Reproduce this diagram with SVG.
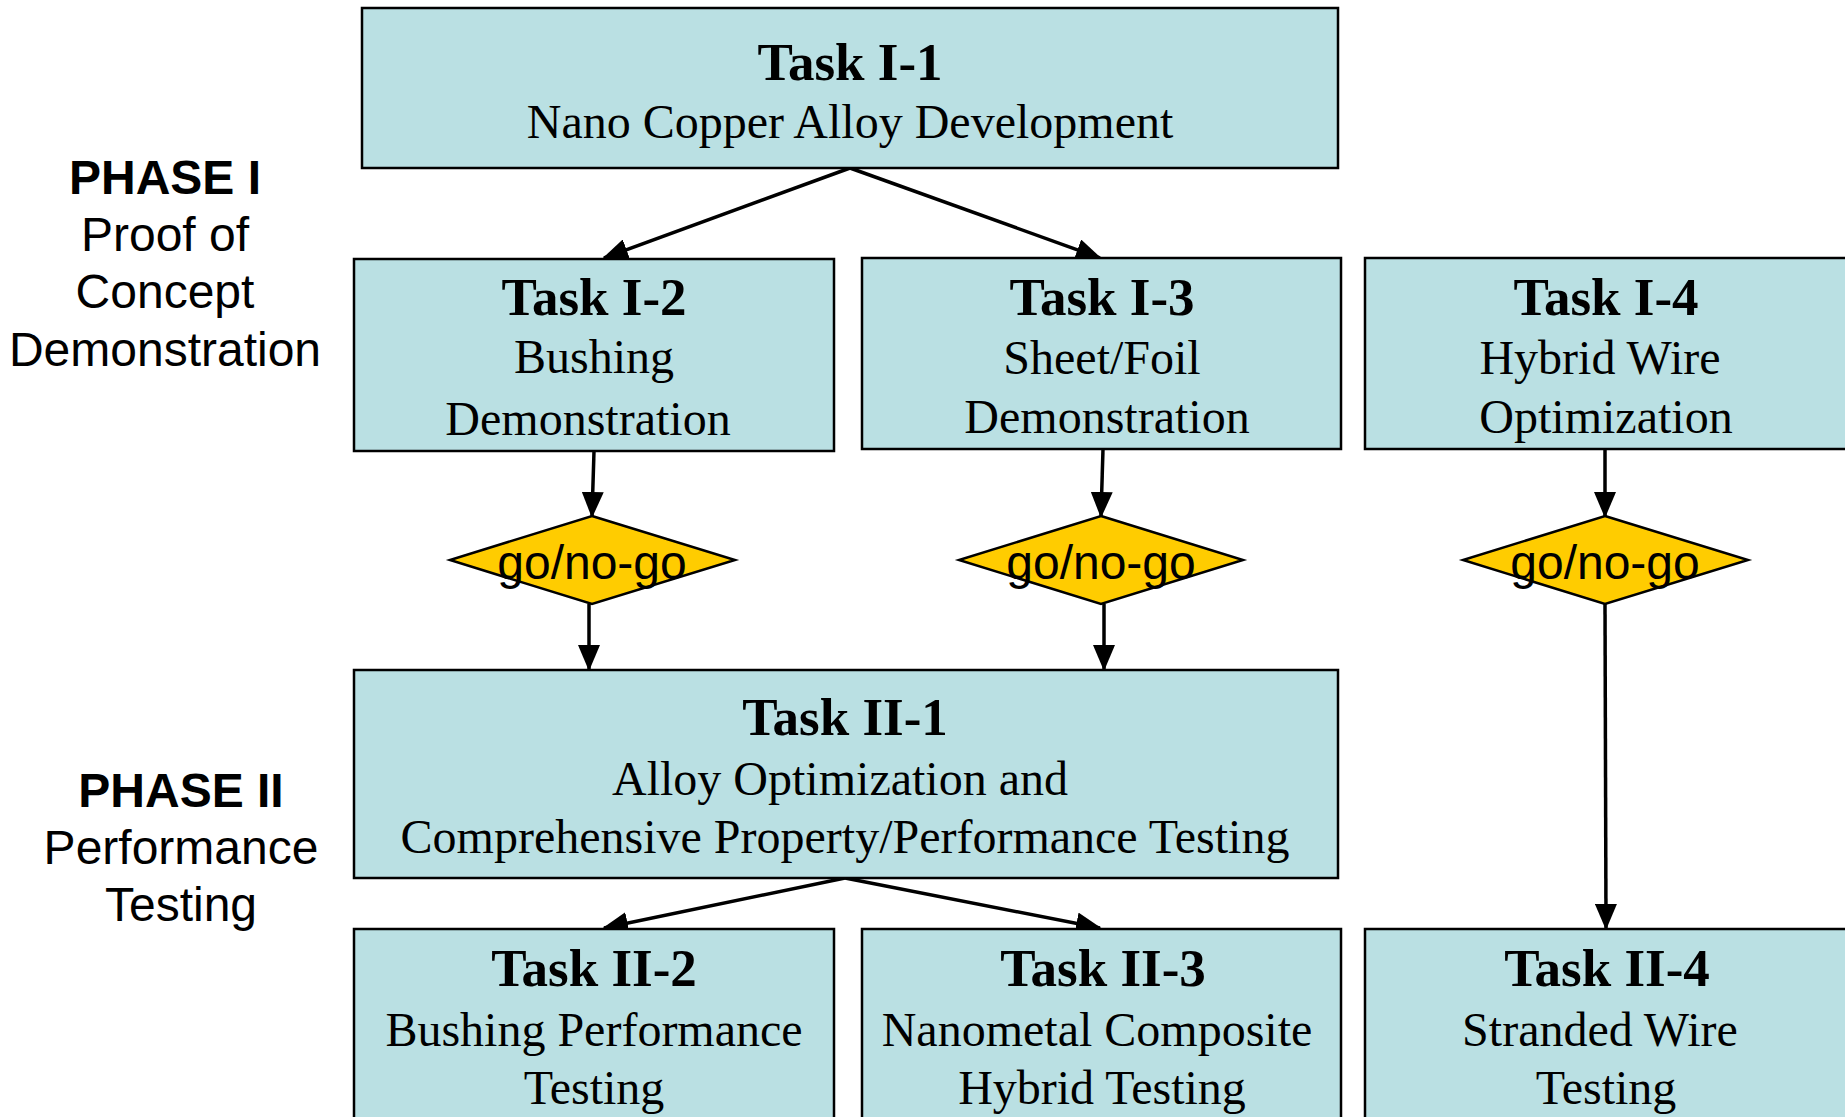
<svg xmlns="http://www.w3.org/2000/svg" width="1845" height="1117" viewBox="0 0 1845 1117">
<style>
.box{fill:#BAE0E3;stroke:#000;stroke-width:2.5}
.dia{fill:#FFCC00;stroke:#000;stroke-width:2.5}
.t{font-family:"Liberation Serif","Times New Roman",serif;font-weight:bold;font-size:53px;text-anchor:middle;fill:#000}
.b{font-family:"Liberation Serif","Times New Roman",serif;font-size:48px;text-anchor:middle;fill:#000}
.g{font-family:"Liberation Sans",Arial,sans-serif;font-size:48px;text-anchor:middle;fill:#000}
.ph{font-family:"Liberation Sans",Arial,sans-serif;font-size:48px;text-anchor:middle;fill:#000}
.phb{font-weight:bold}
.c{stroke:#000;stroke-width:3.5;fill:none;marker-end:url(#ah)}
</style>
<defs>
<marker id="ah" markerUnits="userSpaceOnUse" markerWidth="26" markerHeight="22" viewBox="0 0 26 22" refX="24" refY="11" orient="auto">
<path d="M0,0 L26,11 L0,22 z" fill="#000"/>
</marker>
</defs>
<rect width="1845" height="1117" fill="#fff"/>

<g id="phase1">
<text class="ph phb" x="165" y="194">PHASE I</text>
<text class="ph" x="165" y="251">Proof of</text>
<text class="ph" x="165" y="308">Concept</text>
<text class="ph" x="165" y="366">Demonstration</text>
</g>
<g id="phase2">
<text class="ph phb" x="181" y="807">PHASE II</text>
<text class="ph" x="181" y="864">Performance</text>
<text class="ph" x="181" y="921">Testing</text>
</g>

<g id="connectors">
<line class="c" x1="850" y1="168" x2="604" y2="258"/>
<line class="c" x1="850" y1="168" x2="1100" y2="258"/>
<line class="c" x1="594" y1="451" x2="592" y2="516"/>
<line class="c" x1="1103" y1="449" x2="1101" y2="516"/>
<line class="c" x1="1605" y1="449" x2="1605" y2="516"/>
<line class="c" x1="589" y1="604" x2="589" y2="669"/>
<line class="c" x1="1104" y1="604" x2="1104" y2="669"/>
<line class="c" x1="1605" y1="604" x2="1606" y2="928"/>
<line class="c" x1="845" y1="878" x2="604" y2="928"/>
<line class="c" x1="845" y1="878" x2="1100" y2="928"/>
</g>

<g id="task-I-1">
<rect class="box" x="362" y="8" width="976" height="160"/>
<text class="t" x="850" y="80">Task I-1</text>
<text class="b" x="850" y="138">Nano Copper Alloy Development</text>
</g>
<g id="task-I-2">
<rect class="box" x="354" y="259" width="480" height="192"/>
<text class="t" x="594" y="315">Task I-2</text>
<text class="b" x="594" y="373">Bushing</text>
<text class="b" x="588" y="435">Demonstration</text>
</g>
<g id="task-I-3">
<rect class="box" x="862" y="258" width="479" height="191"/>
<text class="t" x="1102" y="315">Task I-3</text>
<text class="b" x="1102" y="374">Sheet/Foil</text>
<text class="b" x="1107" y="433">Demonstration</text>
</g>
<g id="task-I-4">
<rect class="box" x="1365" y="258" width="500" height="191"/>
<text class="t" x="1606" y="315">Task I-4</text>
<text class="b" x="1600" y="374">Hybrid Wire</text>
<text class="b" x="1606" y="433">Optimization</text>
</g>

<g id="gate-1">
<polygon class="dia" points="592,516 735,560 592,604 450,560"/>
<text class="g" x="592" y="579">go/no-go</text>
</g>
<g id="gate-2">
<polygon class="dia" points="1101,516 1243,560 1101,604 959,560"/>
<text class="g" x="1101" y="579">go/no-go</text>
</g>
<g id="gate-3">
<polygon class="dia" points="1605,516 1748,560 1605,604 1463,560"/>
<text class="g" x="1605" y="579">go/no-go</text>
</g>

<g id="task-II-1">
<rect class="box" x="354" y="670" width="984" height="208"/>
<text class="t" x="845" y="735">Task II-1</text>
<text class="b" x="840" y="795">Alloy Optimization and</text>
<text class="b" x="845" y="853">Comprehensive Property/Performance Testing</text>
</g>
<g id="task-II-2">
<rect class="box" x="354" y="929" width="480" height="220"/>
<text class="t" x="594" y="986">Task II-2</text>
<text class="b" x="594" y="1046">Bushing Performance</text>
<text class="b" x="594" y="1104">Testing</text>
</g>
<g id="task-II-3">
<rect class="box" x="862" y="929" width="479" height="220"/>
<text class="t" x="1103" y="986">Task II-3</text>
<text class="b" x="1097" y="1046">Nanometal Composite</text>
<text class="b" x="1102" y="1104">Hybrid Testing</text>
</g>
<g id="task-II-4">
<rect class="box" x="1365" y="929" width="500" height="220"/>
<text class="t" x="1607" y="986">Task II-4</text>
<text class="b" x="1600" y="1046">Stranded Wire</text>
<text class="b" x="1606" y="1104">Testing</text>
</g>
</svg>
